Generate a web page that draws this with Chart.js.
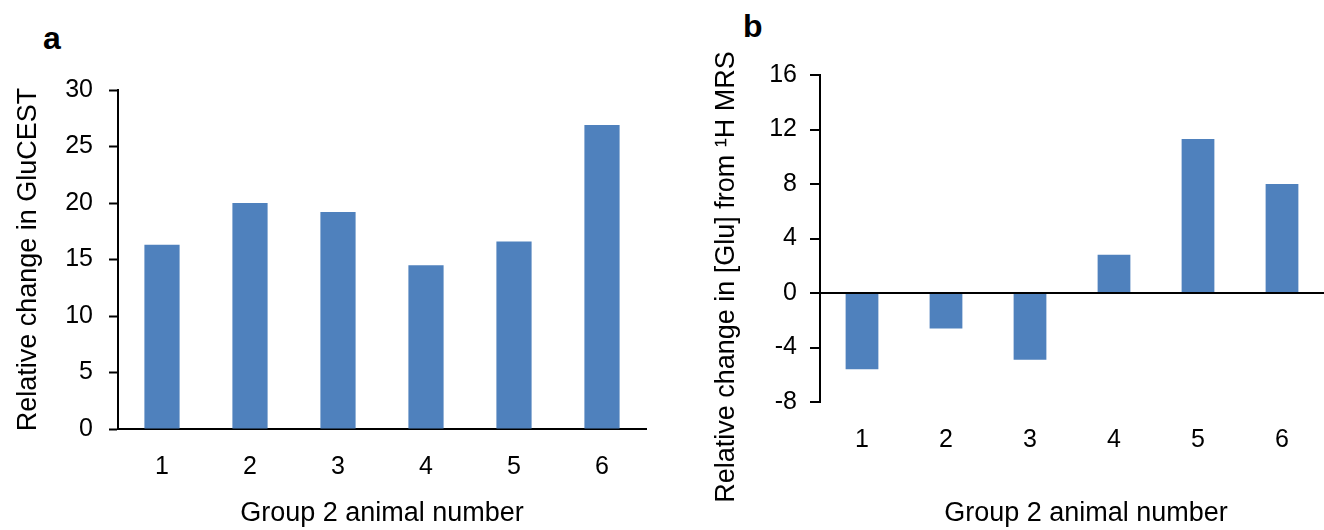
<!DOCTYPE html>
<html>
<head>
<meta charset="utf-8">
<script src="https://cdn.jsdelivr.net/npm/chart.js@4"></script>
<style>
  body { margin: 0; background: #fff; width: 1324px; height: 530px; overflow: hidden; position: relative; }
  canvas { position: absolute; top: 0; }
  #chart-a { left: 0; }
  #chart-b { left: 660px; }
  .panel-label { position: absolute; font: bold 32px 'Liberation Sans', Arial, sans-serif; line-height: 32px; color: #000; }
</style>
</head>
<body>
<div class="panel-label" style="left:43px; top:22px;">a</div>
<div class="panel-label" style="left:743px; top:10px;">b</div>
<canvas id="chart-a" width="660" height="530"></canvas>
<canvas id="chart-b" width="664" height="530"></canvas>
<script>
// Values
const animals = ['1', '2', '3', '4', '5', '6'];
const gluCestChange = [16.3, 20.0, 19.2, 14.5, 16.6, 26.9];
const mrsGluChange = [-5.6, -2.6, -4.9, 2.8, 11.3, 8.0];
const gluCestAxis = [0, 30, 5];   // min, max, step
const mrsAxis = [-8, 16, 4];

const xTitle = 'Group 2 animal number';
const gluCestTitle = 'Relative change in GluCEST';
const mrsTitle = 'Relative change in [Glu] from \u00B9H MRS';

const barColor = '#4F81BD';

Chart.defaults.font.family = "'Liberation Sans', Arial, sans-serif";
Chart.defaults.color = '#000';

// Free-standing titles (Excel centres panel b's titles on the whole panel, not the plot)
const freeTitles = {
    id: 'freeTitles',
    afterDraw(chart, args, opts) {
        const ctx = chart.ctx;
        (opts.items || []).forEach(t => {
            ctx.save();
            ctx.translate(t.x, t.y);
            if (t.vertical) ctx.rotate(-Math.PI / 2);
            ctx.font = `${t.size}px ${Chart.defaults.font.family}`;
            ctx.fillStyle = '#000';
            ctx.textAlign = 'center';
            ctx.textBaseline = 'middle';
            ctx.fillText(t.text, 0, 0);
            ctx.restore();
        });
    }
};

function xScale(height, showLine, showTitle) {
    return {
        afterFit: s => { s.height = height; },
        grid: { display: false, drawTicks: false },
        border: { display: showLine, color: '#000', width: 2 },
        ticks: { font: { size: 25 }, padding: 23 },
        title: { display: showTitle, text: xTitle, font: { size: 27 }, padding: { top: 0, bottom: 0 } }
    };
}

// Panel a: GluCEST
new Chart(document.getElementById('chart-a'), {
    type: 'bar',
    data: {
        labels: animals,
        datasets: [{
            data: gluCestChange,
            backgroundColor: barColor,
            categoryPercentage: 1,
            barPercentage: 0.4
        }]
    },
    options: {
        responsive: false,
        animation: false,
        layout: { padding: { top: 90, right: 14, bottom: 0, left: 0 } },
        plugins: { legend: { display: false }, tooltip: { enabled: false } },
        scales: {
            x: xScale(101, true, true),
            y: {
                min: gluCestAxis[0],
                max: gluCestAxis[1],
                afterFit: s => { s.width = 118; },
                grid: { drawOnChartArea: false, drawTicks: true, tickLength: 9, tickColor: '#000', tickWidth: 2 },
                border: { color: '#000', width: 2 },
                ticks: { stepSize: gluCestAxis[2], font: { size: 25 }, padding: 16 },
                title: { display: true, text: gluCestTitle, font: { size: 27 }, padding: { top: 12, bottom: 0 } }
            }
        }
    }
});

// Panel b: [Glu] from 1H MRS
new Chart(document.getElementById('chart-b'), {
    type: 'bar',
    data: {
        labels: animals,
        datasets: [{
            data: mrsGluChange,
            backgroundColor: barColor,
            categoryPercentage: 1,
            barPercentage: 0.39
        }]
    },
    options: {
        responsive: false,
        animation: false,
        layout: { padding: { top: 75, right: 0, bottom: 0, left: 0 } },
        plugins: {
            legend: { display: false },
            tooltip: { enabled: false },
            freeTitles: {
                items: [
                    { text: mrsTitle, x: 67, y: 277, size: 27, vertical: true },
                    { text: xTitle, x: 426, y: 514, size: 27 }
                ]
            }
        },
        scales: {
            x: xScale(128, false, false),
            y: {
                min: mrsAxis[0],
                max: mrsAxis[1],
                afterFit: s => { s.width = 160; },
                grid: {
                    drawOnChartArea: true,
                    drawTicks: true,
                    tickLength: 10,
                    tickColor: '#000',
                    tickWidth: 2,
                    lineWidth: 2,
                    color: c => (c.tick && c.tick.value === 0) ? '#000' : 'rgba(0,0,0,0)'
                },
                border: { color: '#000', width: 2 },
                ticks: { stepSize: mrsAxis[2], font: { size: 25 }, padding: 13 },
                title: { display: false }
            }
        }
    },
    plugins: [freeTitles]
});
</script>
</body>
</html>
